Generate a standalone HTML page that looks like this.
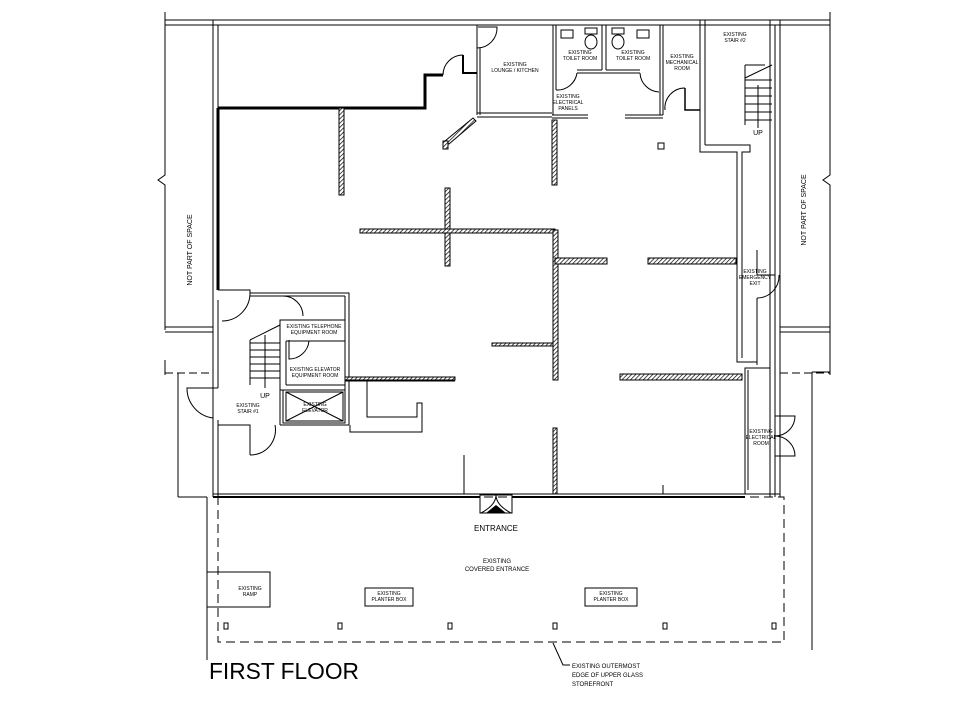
<!DOCTYPE html>
<html><head><meta charset="utf-8"><style>
html,body{margin:0;padding:0;background:#fff;}
svg{display:block;}
text{font-family:"Liberation Sans",sans-serif;fill:#000;}
.s{font-size:5px;}
</style></head><body>
<svg width="960" height="720" viewBox="0 0 960 720" xmlns="http://www.w3.org/2000/svg">
<defs>
<pattern id="h" width="3" height="3" patternUnits="userSpaceOnUse" patternTransform="rotate(45)">
<rect width="3" height="3" fill="#fff"/><line x1="0" y1="0" x2="0" y2="3" stroke="#000" stroke-width="1.4"/></pattern>
</defs>
<g fill="none" stroke="#000" stroke-width="1">
<!-- outer top -->
<line x1="165" y1="20" x2="830" y2="20"/><line x1="165" y1="25" x2="830" y2="25"/>
<!-- left not part of space -->
<polyline points="165,12 165,175 158,180 165,185 165,330"/>
<line x1="165" y1="327" x2="213" y2="327"/><line x1="165" y1="332" x2="213" y2="332"/>
<line x1="165" y1="373" x2="213" y2="373" stroke-dasharray="8,4"/>
<line x1="178" y1="373" x2="178" y2="497"/><line x1="165" y1="360" x2="165" y2="375"/>
<!-- right not part -->
<polyline points="830,12 830,175 823,180 830,185 830,375"/>
<line x1="780" y1="327" x2="830" y2="327"/><line x1="780" y1="332" x2="830" y2="332"/>
<line x1="780" y1="373" x2="830" y2="373" stroke-dasharray="8,4"/>
<line x1="812" y1="372" x2="812" y2="650"/><line x1="812" y1="372" x2="830" y2="372"/>
<!-- main walls -->
<line x1="213" y1="20" x2="213" y2="497"/><line x1="218" y1="25" x2="218" y2="290"/>
<line x1="218" y1="300" x2="218" y2="388"/><line x1="218" y1="420" x2="218" y2="497"/>
<line x1="775" y1="25" x2="775" y2="497"/><line x1="780" y1="20" x2="780" y2="497"/>
<!-- storefront -->
<line x1="213" y1="494" x2="780" y2="494"/><line x1="213" y1="497" x2="480" y2="497" stroke-width="2"/><line x1="512" y1="497" x2="745" y2="497" stroke-width="2"/>
<!-- covered entrance -->
<rect x="218" y="497" width="566" height="145" stroke-dasharray="9,5"/>
<line x1="207" y1="497" x2="207" y2="660"/><line x1="178" y1="497" x2="207" y2="497"/>
<rect x="207" y="572" width="63" height="35"/>
<rect x="365" y="588" width="48" height="18"/><rect x="585" y="588" width="52" height="18"/>
<!-- entrance door -->
<rect x="480" y="495" width="32" height="18"/>
<path d="M481,513 Q496,505 496,495 M511,513 Q496,505 496,495"/>
<!-- thick wall top-left -->
<polyline points="218,108 425,108 425,75 443,75" stroke-width="3"/>
<path d="M443,75 A20,20 0 0 1 463,55"/>
<polyline points="463,55 463,73 477,73" stroke-width="2"/>
<line x1="218" y1="108" x2="218" y2="290" stroke-width="3"/>
<!-- lounge -->
<line x1="477" y1="25" x2="477" y2="115"/><line x1="480" y1="48" x2="480" y2="115"/>
<line x1="477" y1="113" x2="552" y2="113"/><line x1="477" y1="117" x2="552" y2="117"/>
<path d="M478,27 L497,27 A20,20 0 0 1 477,48"/>
<!-- toilets -->
<line x1="553" y1="25" x2="553" y2="115"/><line x1="556" y1="25" x2="556" y2="90"/>
<line x1="602" y1="25" x2="602" y2="70"/><line x1="606" y1="25" x2="606" y2="70"/>
<line x1="577" y1="70" x2="602" y2="70"/><line x1="606" y1="70" x2="640" y2="70"/>
<line x1="577" y1="73" x2="640" y2="73"/>
<line x1="660" y1="25" x2="660" y2="115"/><line x1="663" y1="25" x2="663" y2="115"/>
<path d="M556,90 A20,20 0 0 0 577,73 M640,73 A20,20 0 0 0 659,92"/>
<rect x="561" y="30" width="12" height="8"/><ellipse cx="591" cy="42" rx="6" ry="7"/><rect x="585" y="28" width="12" height="6"/>
<rect x="637" y="30" width="12" height="8"/><ellipse cx="618" cy="42" rx="6" ry="7"/><rect x="612" y="28" width="12" height="6"/>
<line x1="552" y1="115" x2="588" y2="115"/><line x1="552" y1="118" x2="588" y2="118"/>
<line x1="625" y1="115" x2="663" y2="115"/><line x1="625" y1="118" x2="663" y2="118"/>
<!-- mechanical -->
<line x1="700" y1="20" x2="700" y2="110"/><line x1="705" y1="20" x2="705" y2="145"/>
<path d="M665,110 A20,20 0 0 1 685,88"/><polyline points="685,88 685,110 700,110" stroke-width="1.5"/>
<!-- stair 2 -->
<polyline points="700,110 700,152 737,152 737,362 757,362"/>
<polyline points="705,145 750,145 750,152 742,152 742,250"/>
<polyline points="745,65 745,125" /><line x1="745" y1="65" x2="765" y2="65"/>
<line x1="745" y1="80" x2="772" y2="80"/><line x1="745" y1="88" x2="772" y2="88"/><line x1="745" y1="96" x2="772" y2="96"/><line x1="745" y1="104" x2="772" y2="104"/><line x1="745" y1="112" x2="772" y2="112"/><line x1="745" y1="120" x2="772" y2="120"/>
<line x1="745" y1="78" x2="772" y2="65"/><line x1="758" y1="85" x2="758" y2="128"/>
<line x1="770" y1="20" x2="770" y2="497"/>
<!-- emergency exit -->
<line x1="742" y1="250" x2="742" y2="358"/><line x1="757" y1="250" x2="757" y2="275"/><line x1="757" y1="298" x2="757" y2="365"/>
<path d="M757,275 L775,275 M757,298 A22,22 0 0 0 779,275"/>
<!-- electrical room -->
<rect x="745" y="368" width="25" height="126"/><line x1="748" y1="370" x2="748" y2="490"/>
<path d="M775,416 L795,416 A20,20 0 0 1 775,436 A20,20 0 0 1 795,456 L775,456"/>
<!-- stair 1 -->
<polyline points="218,290 250,290 250,293 349,293 349,425"/>
<line x1="250" y1="296" x2="345" y2="296"/><line x1="345" y1="296" x2="345" y2="423"/>
<path d="M250,293 A28,28 0 0 1 222,321 M283,296 A20,20 0 0 1 303,316"/>
<rect x="280" y="320" width="65" height="70"/><line x1="286" y1="341" x2="345" y2="341"/><line x1="286" y1="341" x2="286" y2="385"/><line x1="286" y1="385" x2="345" y2="385"/>
<path d="M289,340 L289,359 A20,20 0 0 0 309,341"/>
<rect x="283" y="390" width="62" height="33"/><rect x="286" y="392" width="57" height="29"/>
<line x1="286" y1="392" x2="343" y2="421"/><line x1="343" y1="392" x2="286" y2="421"/>
<line x1="280" y1="390" x2="280" y2="425"/><line x1="280" y1="425" x2="349" y2="425"/>
<line x1="250" y1="340" x2="280" y2="325"/><line x1="250" y1="340" x2="250" y2="385"/>
<line x1="250" y1="343" x2="280" y2="343"/><line x1="250" y1="350" x2="280" y2="350"/><line x1="250" y1="357" x2="280" y2="357"/><line x1="250" y1="364" x2="280" y2="364"/><line x1="250" y1="371" x2="280" y2="371"/><line x1="250" y1="378" x2="280" y2="378"/>
<line x1="265" y1="335" x2="265" y2="388"/>
<path d="M218,388 L187,388 A30,30 0 0 0 213,418"/>
<polyline points="218,425 250,425 250,455"/><path d="M250,455 A25,25 0 0 0 275,425"/>
<line x1="218" y1="428" x2="218" y2="494"/>
<!-- counter -->
<polyline points="367,380 367,417 417,417 417,403 422,403 422,432 350,432 350,425"/>
<line x1="345" y1="378" x2="455" y2="378"/><line x1="345" y1="381" x2="455" y2="381"/>
<line x1="464" y1="455" x2="464" y2="494"/><line x1="663" y1="485" x2="663" y2="494"/>
<!-- leader -->
<polyline points="553,643 563,665 570,665"/>
</g>
<!-- hatched walls -->
<g fill="url(#h)" stroke="#000" stroke-width="1">
<rect x="339" y="108" width="5" height="87"/>
<rect x="445" y="188" width="5" height="78"/>
<rect x="360" y="229" width="195" height="4"/>
<rect x="552" y="120" width="5" height="65"/>
<rect x="553" y="230" width="5" height="150"/>
<rect x="555" y="258" width="52" height="6"/>
<rect x="648" y="258" width="88" height="6"/>
<rect x="620" y="374" width="122" height="6"/>
<rect x="492" y="343" width="61" height="3"/>
<rect x="553" y="428" width="4" height="66"/>
<polygon points="445,141 473,118 476,121 449,144"/>
<rect x="443" y="141" width="5" height="8"/>
<rect x="345" y="377" width="110" height="3"/>
</g>
<rect x="658" y="143" width="6" height="6" fill="none" stroke="#000"/>
<!-- columns -->
<g fill="none" stroke="#000" stroke-width="1">
<rect x="224" y="623" width="4" height="6"/><rect x="338" y="623" width="4" height="6"/><rect x="448" y="623" width="4" height="6"/><rect x="553" y="623" width="4" height="6"/><rect x="663" y="623" width="4" height="6"/><rect x="772" y="623" width="4" height="6"/>
</g>
<polygon points="486,513 496,505 506,513" fill="#000"/>
<!-- labels -->
<text x="515" y="66" class="s" text-anchor="middle">EXISTING</text><text x="515" y="72" class="s" text-anchor="middle">LOUNGE / KITCHEN</text>
<text x="580" y="54" class="s" text-anchor="middle">EXISTING</text><text x="580" y="60" class="s" text-anchor="middle">TOILET ROOM</text>
<text x="633" y="54" class="s" text-anchor="middle">EXISTING</text><text x="633" y="60" class="s" text-anchor="middle">TOILET ROOM</text>
<text x="682" y="58" class="s" text-anchor="middle">EXISTING</text><text x="682" y="64" class="s" text-anchor="middle">MECHANICAL</text><text x="682" y="70" class="s" text-anchor="middle">ROOM</text>
<text x="568" y="98" class="s" text-anchor="middle">EXISTING</text><text x="568" y="104" class="s" text-anchor="middle">ELECTRICAL</text><text x="568" y="110" class="s" text-anchor="middle">PANELS</text>
<text x="735" y="36" class="s" text-anchor="middle">EXISTING</text><text x="735" y="42" class="s" text-anchor="middle">STAIR #2</text>
<text x="758" y="135" font-size="7" text-anchor="middle">UP</text>
<text x="755" y="273" class="s" text-anchor="middle">EXISTING</text><text x="755" y="279" class="s" text-anchor="middle">EMERGENCY</text><text x="755" y="285" class="s" text-anchor="middle">EXIT</text>
<text x="761" y="433" class="s" text-anchor="middle">EXISTING</text><text x="761" y="439" class="s" text-anchor="middle">ELECTRICAL</text><text x="761" y="445" class="s" text-anchor="middle">ROOM</text>
<text x="314" y="328" class="s" text-anchor="middle">EXISTING TELEPHONE</text><text x="314" y="334" class="s" text-anchor="middle">EQUIPMENT ROOM</text>
<text x="315" y="371" class="s" text-anchor="middle">EXISTING ELEVATOR</text><text x="315" y="377" class="s" text-anchor="middle">EQUIPMENT ROOM</text>
<text x="315" y="406" class="s" text-anchor="middle">EXISTING</text><text x="315" y="412" class="s" text-anchor="middle">ELEVATOR</text>
<text x="265" y="398" font-size="7" text-anchor="middle">UP</text>
<text x="248" y="407" class="s" text-anchor="middle">EXISTING</text><text x="248" y="413" class="s" text-anchor="middle">STAIR #1</text>
<text x="496" y="531" font-size="8" text-anchor="middle">ENTRANCE</text>
<text x="497" y="563" font-size="6" text-anchor="middle">EXISTING</text><text x="497" y="571" font-size="6" text-anchor="middle">COVERED ENTRANCE</text>
<text x="250" y="590" class="s" text-anchor="middle">EXISTING</text><text x="250" y="596" class="s" text-anchor="middle">RAMP</text>
<text x="389" y="595" class="s" text-anchor="middle">EXISTING</text><text x="389" y="601" class="s" text-anchor="middle">PLANTER BOX</text>
<text x="611" y="595" class="s" text-anchor="middle">EXISTING</text><text x="611" y="601" class="s" text-anchor="middle">PLANTER BOX</text>
<text x="572" y="668" font-size="6">EXISTING OUTERMOST</text><text x="572" y="677" font-size="6">EDGE OF UPPER GLASS</text><text x="572" y="686" font-size="6">STOREFRONT</text>
<text x="209" y="679" font-size="23" textLength="150" lengthAdjust="spacingAndGlyphs">FIRST FLOOR</text>
<text transform="translate(192,250) rotate(-90)" font-size="7" text-anchor="middle">NOT PART OF SPACE</text>
<text transform="translate(806,210) rotate(-90)" font-size="7" text-anchor="middle">NOT PART OF SPACE</text>
</svg>
</body></html>
